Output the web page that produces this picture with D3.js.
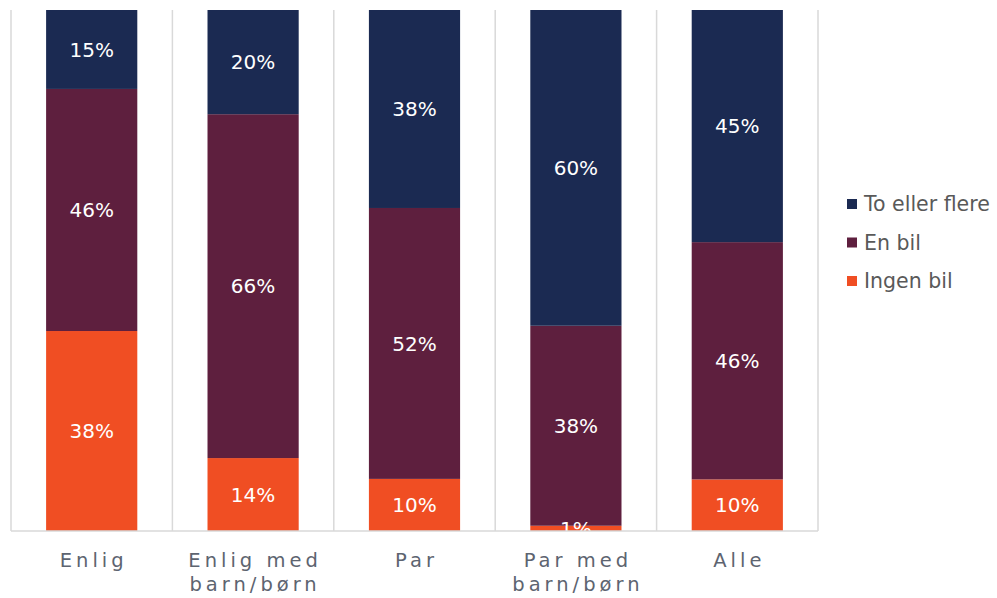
<!DOCTYPE html>
<html lang="no">
  <head>
    <meta charset="UTF-8" />
    <title>Biler per husholdning</title>
    <script src="https://cdn.jsdelivr.net/npm/d3@7"></script>
    <style>
      body { margin: 0; background: #fff; }
      text { font-family: Verdana, "DejaVu Sans", sans-serif; }
    </style>
  </head>
  <body>
    <script>
      // data (percent of households)
      const categories = [["Enlig"], ["Enlig med", "barn/børn"], ["Par"], ["Par med", "barn/børn"], ["Alle"]];
      const seriesNames = ["Ingen bil", "En bil", "To eller flere"];
      const ingenBil = [38, 14, 10, 1, 10];
      const enBil = [46, 66, 52, 38, 46];
      const toEllerFlere = [15, 20, 38, 60, 45];
      const colors = ["#f04e23", "#5e1f3e", "#1b2a52"];

      const keys = categories.map((c) => c.join(" "));
      const rows = keys.map((k, i) => ({
        key: k,
        "Ingen bil": ingenBil[i],
        "En bil": enBil[i],
        "To eller flere": toEllerFlere[i],
      }));

      const width = 997, height = 598;
      const plotL = 11, plotR = 818, plotT = 10, plotB = 531;

      const svg = d3.select("body").append("svg")
        .attr("width", width)
        .attr("height", height);

      const x = d3.scaleBand().domain(keys).range([plotL, plotR]).padding(0);
      const y = d3.scaleLinear().domain([0, 1]).range([plotB, plotT]);
      const color = d3.scaleOrdinal().domain(seriesNames).range(colors);
      const barW = x.bandwidth() * 0.565;

      const stack = d3.stack().keys(seriesNames).offset(d3.stackOffsetExpand);
      const series = stack(rows);

      // gridlines between categories
      const edges = keys.map((k) => x(k)).concat([plotR]);
      svg.append("g")
        .selectAll("line")
        .data(edges)
        .enter()
        .append("line")
        .attr("x1", (d) => d)
        .attr("x2", (d) => d)
        .attr("y1", plotT)
        .attr("y2", plotB)
        .attr("stroke", "#d9d9d9")
        .attr("stroke-width", 1.5);

      svg.append("clipPath").attr("id", "plot")
        .append("rect")
        .attr("x", plotL).attr("y", plotT)
        .attr("width", plotR - plotL).attr("height", plotB - plotT);

      const groups = svg.append("g")
        .selectAll("g")
        .data(series)
        .enter()
        .append("g")
        .attr("fill", (d) => color(d.key));

      groups.selectAll("rect")
        .data((d) => d)
        .enter()
        .append("rect")
        .attr("x", (d) => x(d.data.key) + (x.bandwidth() - barW) / 2)
        .attr("y", (d) => y(d[1]))
        .attr("width", barW)
        .attr("height", (d) => y(d[0]) - y(d[1]));

      // value labels
      svg.append("g")
        .attr("clip-path", "url(#plot)")
        .selectAll("g")
        .data(series)
        .enter()
        .append("g")
        .selectAll("text")
        .data((s) => s.map((d) => ({ d: d, v: d.data[s.key] })))
        .enter()
        .append("text")
        .attr("x", (o) => x(o.d.data.key) + x.bandwidth() / 2)
        .attr("y", (o) => (y(o.d[0]) + y(o.d[1])) / 2)
        .attr("dy", "0.36em")
        .attr("text-anchor", "middle")
        .attr("fill", "#fff")
        .attr("font-size", 20)
        .text((o) => o.v + "%");

      // bottom axis line
      svg.append("line")
        .attr("x1", plotL).attr("x2", plotR)
        .attr("y1", plotB).attr("y2", plotB)
        .attr("stroke", "#d9d9d9")
        .attr("stroke-width", 1.5);

      // category labels
      const cat = svg.append("g")
        .selectAll("text")
        .data(categories)
        .enter()
        .append("text")
        .attr("x", (d, i) => x(keys[i]) + x.bandwidth() / 2 + 2)
        .attr("y", 567)
        .attr("text-anchor", "middle")
        .attr("fill", "#5d6470")
        .attr("font-size", 19.5)
        .attr("letter-spacing", 4);
      cat.selectAll("tspan")
        .data((d) => d)
        .enter()
        .append("tspan")
        .attr("x", function () { return d3.select(this.parentNode).attr("x"); })
        .attr("dy", (d, i) => (i === 0 ? 0 : 24))
        .text((d) => d);

      // legend
      const legend = svg.append("g")
        .selectAll("g")
        .data(seriesNames.slice().reverse())
        .enter()
        .append("g")
        .attr("transform", (d, i) => "translate(847," + (204 + i * 38.5) + ")");
      legend.append("rect")
        .attr("x", 0).attr("y", -5)
        .attr("width", 10).attr("height", 10)
        .attr("fill", (d) => color(d));
      legend.append("text")
        .attr("x", 17)
        .attr("dy", "0.36em")
        .attr("fill", "#595959")
        .attr("font-size", 20.5)
        .text((d) => d);
    </script>
  </body>
</html>
